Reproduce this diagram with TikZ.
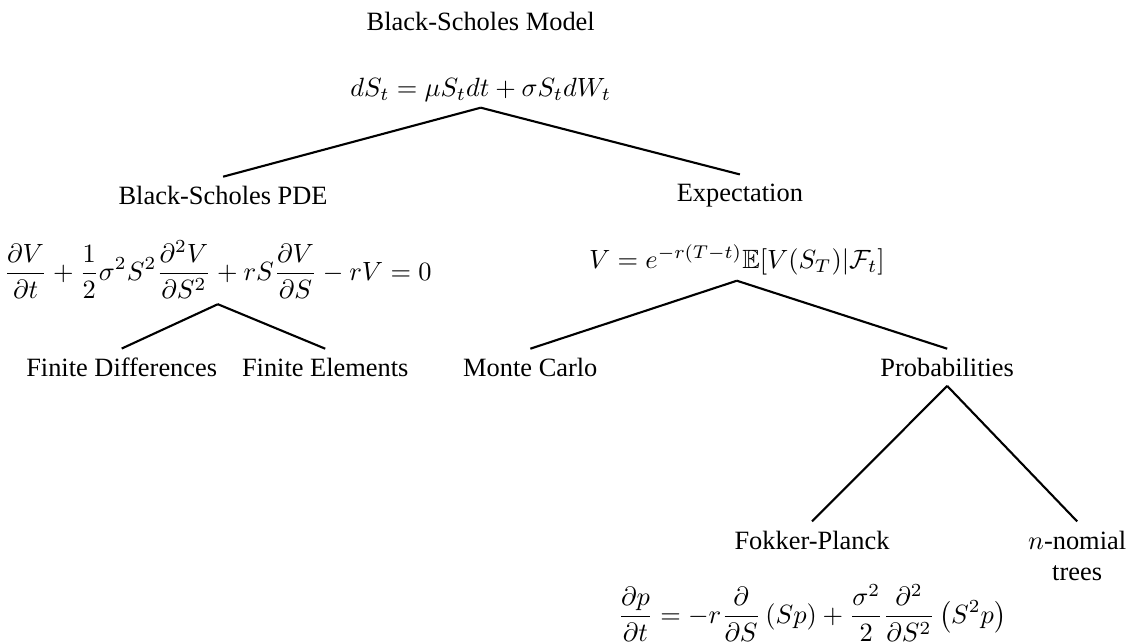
\documentclass[tikz,border=0pt]{standalone}
\usepackage{amsmath}
\usepackage{amssymb}
\usepackage{fontspec}
\setmainfont{Liberation Serif}

\begin{document}
\begin{tikzpicture}[
    topic/.style={align=center},
    formula/.style={inner sep=2pt},
    branch/.style={thick}
]
\useasboundingbox (0,0) rectangle (15.15,-8.57);

\node[topic] (model) at (6.40,-0.29) {Black-Scholes Model};
\node[formula] (modeleq) at (6.40,-1.20) {$dS_t = \mu S_t dt + \sigma S_t dW_t$};

\node[topic] (pde) at (2.97,-2.60) {Black-Scholes PDE};
\node[formula] (pdeeq) at (2.90,-3.59) {$\displaystyle \frac{\partial V}{\partial t} + \frac{1}{2}\sigma^2 S^2 \frac{\partial^2 V}{\partial S^2} + rS\frac{\partial V}{\partial S} - rV = 0$};
\node[topic] (expect) at (9.85,-2.60) {Expectation};
\node[formula] (expecteq) at (9.81,-3.46) {$V = e^{-r(T-t)}\mathbb{E}[V(S_T)|\mathcal{F}_t]$};

\node[topic] (findiff) at (1.62,-4.89) {Finite Differences};
\node[topic] (finelem) at (4.33,-4.89) {Finite Elements};
\node[topic] (montecarlo) at (7.06,-4.89) {Monte Carlo};
\node[topic] (prob) at (12.61,-4.89) {Probabilities};

\node[topic] (fokker) at (10.81,-7.19) {Fokker-Planck};
\node[formula] (fokkereq) at (10.81,-8.16) {$\displaystyle \frac{\partial p}{\partial t} = -r\frac{\partial}{\partial S}\left(Sp\right) + \frac{\sigma^2}{2}\frac{\partial^2}{\partial S^2}\left(S^2 p\right)$};
\node[topic] (nomial) at (14.34,-7.40) {$n$-nomial\\trees};

\draw[branch] (modeleq.south) -- (pde.north);
\draw[branch] (modeleq.south) -- (expect.north);
\draw[branch] (pdeeq.south) -- (findiff.north);
\draw[branch] (pdeeq.south) -- (finelem.north);
\draw[branch] (expecteq.south) -- (montecarlo.north);
\draw[branch] (expecteq.south) -- (prob.north);
\draw[branch] (prob.south) -- (fokker.north);
\draw[branch] (prob.south) -- (nomial.north);
\end{tikzpicture}
\end{document}
